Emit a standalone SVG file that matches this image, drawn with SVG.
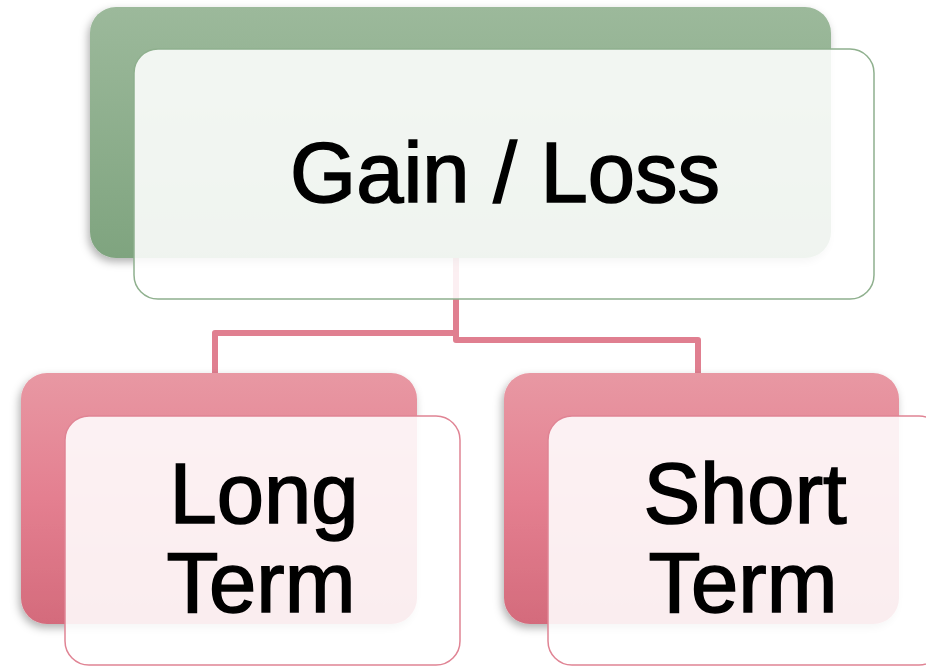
<svg xmlns="http://www.w3.org/2000/svg" width="926" height="667" viewBox="0 0 926 667">
<defs>
<linearGradient id="gGreen" x1="0" y1="0" x2="0" y2="1">
<stop offset="0" stop-color="#9cb99b"/>
<stop offset="1" stop-color="#7fa47f"/>
</linearGradient>
<linearGradient id="gPink" x1="0" y1="0" x2="0" y2="1">
<stop offset="0" stop-color="#e898a3"/>
<stop offset="0.5" stop-color="#e47f90"/>
<stop offset="1" stop-color="#d46b7c"/>
</linearGradient>
<filter id="sh" x="-10%" y="-10%" width="120%" height="125%">
<feDropShadow dx="-2" dy="4" stdDeviation="4" flood-color="#000" flood-opacity="0.3"/>
</filter>
</defs>
<style>
.lbl{font-family:"Liberation Sans",Arial,sans-serif;font-size:85px;fill:#000;stroke:#000;stroke-width:1.6;text-anchor:middle}
.frontG{fill:#ffffff;fill-opacity:0.88;stroke:#8fb08e;stroke-width:1.5}
.frontP{fill:#ffffff;fill-opacity:0.88;stroke:#e08494;stroke-width:1.5}
.conn{fill:none;stroke:#e07f90;stroke-width:6;stroke-linejoin:round}
</style>
<rect width="926" height="667" fill="#ffffff"/>
<g id="connectors">
<path class="conn" d="M456,258 V333 H215 V374"/>
<path class="conn" d="M456,300 V340 H698 V374"/>
</g>
<g id="node-gainloss">
<rect x="90" y="7" width="741" height="251" rx="26" fill="url(#gGreen)" filter="url(#sh)"/>
<rect class="frontG" x="134" y="49" width="740" height="250" rx="24"/>
<text class="lbl" x="505" y="202">Gain / Loss</text>
</g>
<g id="node-longterm">
<rect x="21" y="373" width="396" height="251" rx="26" fill="url(#gPink)" filter="url(#sh)"/>
<rect class="frontP" x="65" y="416" width="395" height="249" rx="24"/>
<text class="lbl" x="264" y="523">Long</text>
<text class="lbl" x="261" y="612">Term</text>
</g>
<g id="node-shortterm">
<rect x="504" y="373" width="395" height="251" rx="26" fill="url(#gPink)" filter="url(#sh)"/>
<rect class="frontP" x="548" y="416" width="395" height="249" rx="24"/>
<text class="lbl" x="745" y="523">Short</text>
<text class="lbl" x="743" y="612">Term</text>
</g>
</svg>
